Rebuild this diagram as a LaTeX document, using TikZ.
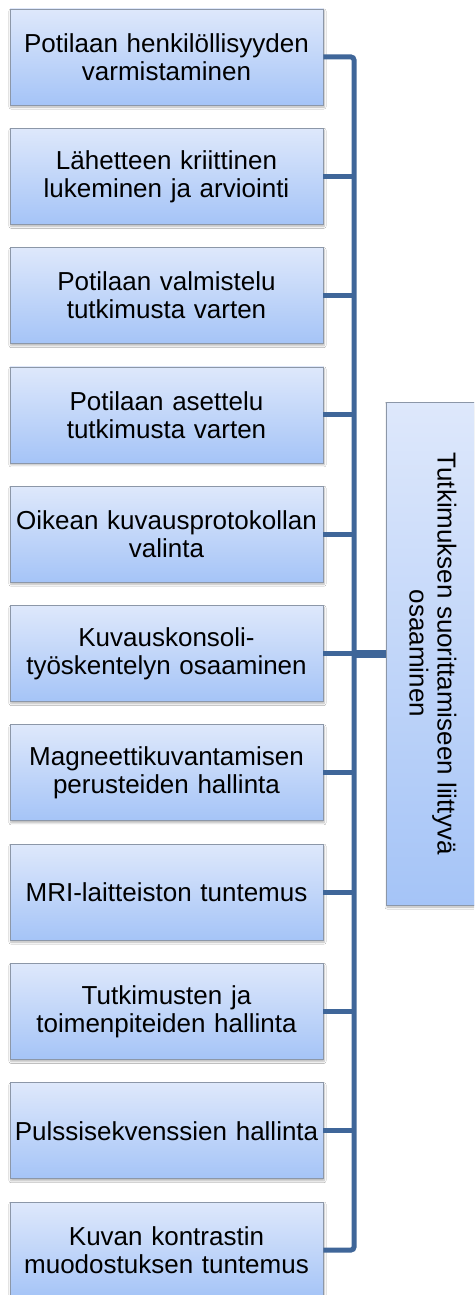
\documentclass[tikz,border=0pt]{standalone}
\usepackage{fontspec}
\setmainfont{Liberation Sans}
\usetikzlibrary{shadows.blur}
\definecolor{boxtop}{HTML}{DEE8FB}
\definecolor{boxbot}{HTML}{A5C4F7}
\definecolor{boxline}{HTML}{8C97A8}
\definecolor{busblue}{HTML}{3F6699}
\tikzset{
  item/.style={draw=boxline, line width=0.8pt, top color=boxtop, bottom color=boxbot,
    minimum width=313pt, minimum height=96pt, inner sep=0pt, align=center,
    font=\fontsize{26}{28}\selectfont, text width=313pt,
    blur shadow={shadow xshift=1pt, shadow yshift=-2pt, shadow blur radius=2pt, shadow blur steps=6, shadow opacity=30}},
  rootbox/.style={draw=boxline, line width=0.8pt, top color=boxtop, bottom color=boxbot,
    minimum width=94pt, minimum height=503pt, inner sep=0pt,
    blur shadow={shadow xshift=1pt, shadow yshift=-2pt, shadow blur radius=2pt, shadow blur steps=6, shadow opacity=30}},
  roottext/.style={align=center, rotate=-90, font=\fontsize{26}{28}\selectfont},
  conn/.style={draw=busblue, line width=5pt},
  trunk/.style={draw=busblue, line width=8pt},
}
\begin{document}
\begin{tikzpicture}[x=1pt, y=-1pt]
\useasboundingbox (0,0) rectangle (474,1295);
\clip (0,0) rectangle (474,1295);
\fill[white] (0,0) rectangle (474,1295);

% skill boxes, top to bottom
\foreach \i/\txt in {
  1/{Potilaan henkilöllisyyden\\varmistaminen},
  2/{Lähetteen kriittinen\\lukeminen ja arviointi},
  3/{Potilaan valmistelu\\tutkimusta varten},
  4/{Potilaan asettelu\\tutkimusta varten},
  5/{Oikean kuvausprotokollan\\valinta},
  6/{Kuvauskonsoli-\\työskentelyn osaaminen},
  7/{Magneettikuvantamisen\\perusteiden hallinta},
  8/{MRI-laitteiston tuntemus},
  9/{Tutkimusten ja\\toimenpiteiden hallinta},
  10/{Pulssisekvenssien hallinta},
  11/{Kuvan kontrastin\\muodostuksen tuntemus}}
{
  \node[item] (b\i) at (166.5, {57+(\i-1)*119.3}) {\txt};
}

% summary box on the right
\node[rootbox] (root) at (433, 653.5) {};
\node[roottext] (roottxt) at (root.center) {Tutkimuksen suorittamiseen liittyvä\\osaaminen};

% bus line joining the boxes
\coordinate (hub) at (354, 653.5);
\draw[conn, rounded corners=3pt] (b1.east) -| (hub) |- (b11.east);
\foreach \i in {2,...,10} {
  \draw[conn] (b\i.east) -- (b\i.east -| hub);
}
\draw[trunk] (hub) -- (root.west);
\end{tikzpicture}
\end{document}
